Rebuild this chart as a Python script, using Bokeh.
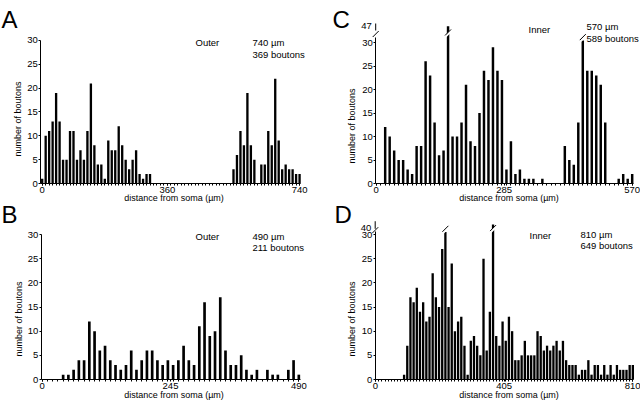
import math
from bokeh.plotting import figure
from bokeh.layouts import column, row
from bokeh.models import FixedTicker, Label, Range1d, ColumnDataSource
from bokeh.embed import file_html
from bokeh.resources import INLINE

FONT = "Liberation Sans"

# ---------------- data (bin centre in µm, boutons per 10 µm bin) ----------------
A_dist = list(range(0, 750, 10))
A_counts = [1, 10, 11, 13, 19, 13, 5, 5, 11, 11,
            5, 7, 5, 11, 21, 8, 4, 4, 1, 9,
            7, 7, 12, 8, 5, 3, 5, 7, 2, 1,
            2, 2, 0, 0, 0, 0, 0, 0, 0, 0,
            0, 0, 0, 0, 0, 0, 0, 0, 0, 0,
            0, 0, 0, 0, 0, 3, 6, 11, 8, 19,
            8, 5, 0, 4, 4, 11, 8, 22, 9, 3,
            4, 3, 3, 2, 2]
A_ticks = [0, 360, 740]

B_dist = list(range(0, 500, 10))
B_counts = [0, 0, 0, 0, 1, 1, 2, 4, 4, 12,
            10, 6, 7, 4, 3, 2, 3, 6, 2, 4,
            6, 6, 4, 3, 4, 3, 4, 7, 4, 3,
            11, 16, 9, 10, 17, 6, 3, 3, 5, 2,
            1, 2, 0, 2, 1, 1, 0, 2, 4, 1]
B_ticks = [0, 245, 490]

C_dist = list(range(0, 580, 10))
C_counts = [0, 0, 12, 10, 7, 5, 5, 3, 2, 8,
            8, 26, 23, 13, 6, 7, 47, 10, 10, 13,
            21, 9, 8, 15, 24, 22, 29, 24, 22, 3,
            9, 2, 3, 1, 1, 1, 0, 1, 0, 0,
            0, 0, 8, 5, 4, 13, 38, 24, 24, 23,
            21, 13, 0, 0, 1, 2, 1, 2]
C_ticks = [0, 285, 570]

D_dist = list(range(0, 820, 10))
D_counts = [0, 0, 0, 0, 0, 0, 0, 0, 0, 1,
            7, 17, 16, 19, 14, 16, 12, 13, 22, 17,
            15, 27, 39, 15, 24, 10, 12, 13, 7, 1,
            8, 9, 7, 5, 25, 6, 14, 43, 9, 7,
            12, 8, 13, 10, 4, 4, 5, 8, 5, 5,
            5, 10, 9, 6, 7, 6, 7, 8, 6, 8,
            4, 3, 3, 3, 1, 2, 2, 4, 1, 3,
            3, 1, 3, 1, 3, 1, 3, 2, 2, 2,
            3, 3]
D_ticks = [0, 405, 810]

Y_ticks = [0, 5, 10, 15, 20, 25, 30]

XTITLE = "distance from soma (µm)"
YTITLE = "number of boutons"

# ---------------- geometry (page pixels) ----------------
# ox, oy, w, h: figure box; x0: pixel of 0 µm; sx: px per µm; base: pixel of 0 boutons;
# sy: px per bouton; xax: pixel of the y axis line
G = {
    "A": dict(ox=0, oy=0, w=330, h=194, x0=41.7, sx=0.3478, base=183, sy=4.767, xax=40.3, xend=743),
    "C": dict(ox=330, oy=0, w=310, h=194, x0=375.7, sx=0.4491, base=183, sy=4.7, xax=375.2, xend=572),
    "B": dict(ox=0, oy=194, w=330, h=206, x0=41.7, sx=0.5237, base=379, sy=4.833, xax=40.8, xend=493),
    "D": dict(ox=330, oy=194, w=310, h=206, x0=375.0, sx=0.3177, base=379, sy=4.833, xax=374.7, xend=813),
}


def px_x(g, px):
    return (px - g["x0"]) / g["sx"]


def px_y(g, py):
    return (g["base"] - py) / g["sy"]


def display_height(v, brk):
    """Broken y axis: values above 30 are drawn on a compressed upper segment."""
    if brk is None or v <= 30:
        return v
    if v < brk["v0"]:
        return brk["gap"]
    return brk["d0"] + (v - brk["v0"]) * (brk["d1"] - brk["d0"]) / (brk["v1"] - brk["v0"])


def add_text(p, g, px, py, text, size="9.5px", align="left", angle=0.0):
    p.add_layout(Label(x=px_x(g, px), y=px_y(g, py), text=text, angle=angle,
                       text_font=FONT, text_font_size=size, text_color="black",
                       text_align=align, text_baseline="middle"))


def add_letter(p, g, px, py, text):
    p.add_layout(Label(x=px_x(g, px), y=px_y(g, py), text=text,
                       text_font=FONT, text_font_size="24px", text_color="black",
                       text_align="left", text_baseline="alphabetic"))


def make_panel(key, dist, counts, xticks, brk, bar_w):
    g = G[key]
    xr = (px_x(g, g["ox"]), px_x(g, g["ox"] + g["w"]))
    yr = (px_y(g, g["oy"] + g["h"]), px_y(g, g["oy"]))
    p = figure(width=g["w"], height=g["h"], x_range=Range1d(*xr), y_range=Range1d(*yr),
               output_backend="svg", toolbar_location=None,
               min_border=0, min_border_left=0, min_border_right=0,
               min_border_top=0, min_border_bottom=0)
    p.outline_line_color = None
    p.xgrid.visible = False
    p.ygrid.visible = False
    p.background_fill_color = "white"
    p.border_fill_color = "white"

    xax = px_x(g, g["xax"])
    tops = [display_height(v, brk) for v in counts]
    src = ColumnDataSource(dict(x=dist, top=tops, n=counts))
    p.vbar(x="x", top="top", width=bar_w, source=src,
           fill_color="black", line_color=None)

    # x axis, drawn along y = 0
    xa = p.xaxis[0]
    xa.fixed_location = 0
    xa.bounds = (xax, g["xend"])
    xa.ticker = FixedTicker(ticks=xticks, minor_ticks=dist)
    xa.major_tick_out = 2
    xa.major_tick_in = 0
    xa.minor_tick_out = 2
    xa.minor_tick_in = 0
    xa.axis_line_color = "black"
    xa.major_tick_line_color = "black"
    xa.minor_tick_line_color = "black"
    xa.major_label_standoff = 1
    xa.major_label_text_font = FONT
    xa.major_label_text_font_size = "9.5px"
    xa.major_label_text_color = "black"

    # y axis, drawn at the left edge of the data
    ya = p.yaxis[0]
    ya.fixed_location = xax
    ya.ticker = FixedTicker(ticks=Y_ticks, minor_ticks=[])
    ya.bounds = (0, 30) if brk is None else (0, brk["axis_top"])
    ya.major_tick_out = 2
    ya.major_tick_in = 0
    ya.minor_tick_out = 0
    ya.minor_tick_in = 0
    ya.axis_line_color = "black"
    ya.major_tick_line_color = "black"
    ya.major_label_standoff = 1
    ya.major_label_text_font = FONT
    ya.major_label_text_font_size = "9.5px"
    ya.major_label_text_color = "black"

    if brk is not None:
        dx_ax = 3.0 / g["sx"]
        dy = 3.0 / g["sy"]
        # upper segment of the broken axis and its label
        p.segment(x0=[xax], y0=[brk["seg"][0]], x1=[xax], y1=[brk["seg"][1]],
                  line_color="black", line_width=1)
        p.add_layout(Label(x=xax, y=display_height(brk["label_v"], brk), text=str(brk["label_v"]),
                           x_offset=-4, text_align="right", text_baseline="middle",
                           text_font=FONT, text_font_size="9.5px", text_color="black"))
        yc = (brk["axis_top"] + brk["seg"][0]) / 2
        p.segment(x0=[xax - dx_ax], y0=[yc - dy], x1=[xax + dx_ax], y1=[yc + dy],
                  line_color="black", line_width=1)
        # break marks on the truncated bars
        bx = [d for d, v in zip(dist, counts) if v > 30]
        by = [brk["slash_upper"] if v >= brk["v0"] else brk["gap"] + 0.35
              for v in counts if v > 30]
        dxb = 3.0 / g["sx"]
        off = 1.6 / g["sy"]
        p.segment(x0=[x - dxb for x in bx], y0=[y - dy for y in by],
                  x1=[x + dxb for x in bx], y1=[y + dy for y in by],
                  line_color="white", line_width=2.2)
        p.segment(x0=[x - dxb for x in bx], y0=[y - dy + off for y in by],
                  x1=[x + dxb for x in bx], y1=[y + dy + off for y in by],
                  line_color="black", line_width=1)
    return p, g


C_brk = dict(v0=44, v1=47, d0=32.6, d1=33.45, gap=30.45, axis_top=31.06,
             seg=(32.55, 34.04), label_v=47, slash_upper=31.8)
D_brk = dict(v0=40, v1=45, d0=31.45, d1=32.48, gap=30.5, axis_top=30.6,
             seg=(31.18, 32.75), label_v=40, slash_upper=31.0)

pA, gA = make_panel("A", A_dist, A_counts, A_ticks, None, 6.7)
pC, gC = make_panel("C", C_dist, C_counts, C_ticks, C_brk, 5.5)
pB, gB = make_panel("B", B_dist, B_counts, B_ticks, None, 5.1)
pD, gD = make_panel("D", D_dist, D_counts, D_ticks, D_brk, 7.3)

# panel letters
add_letter(pA, gA, 1, 19, "A")
add_letter(pC, gC, 332, 19, "C")
add_letter(pB, gB, 1, 213.5, "B")
add_letter(pD, gD, 334, 213.5, "D")

# y titles
add_text(pA, gA, 17, 118.5, YTITLE, size="9px", align="center", angle=math.pi / 2)
add_text(pC, gC, 351.5, 125.5, YTITLE, size="9px", align="center", angle=math.pi / 2)
add_text(pB, gB, 18.5, 318.5, YTITLE, size="9px", align="center", angle=math.pi / 2)
add_text(pD, gD, 351.5, 318.5, YTITLE, size="9px", align="center", angle=math.pi / 2)

# x titles (the upper row's titles fall in the lower row's boxes)
add_text(pB, gB, 173.5, 197.5, XTITLE, size="9px", align="center")
add_text(pD, gD, 508.5, 197.5, XTITLE, size="9px", align="center")
add_text(pB, gB, 173.5, 394, XTITLE, size="9px", align="center")
add_text(pD, gD, 508.5, 394, XTITLE, size="9px", align="center")

# annotations
add_text(pA, gA, 195, 42, "Outer")
add_text(pA, gA, 252, 41.5, "740 µm")
add_text(pA, gA, 252, 53.5, "369 boutons")

add_text(pB, gB, 195, 236, "Outer")
add_text(pB, gB, 252, 236, "490 µm")
add_text(pB, gB, 252, 247, "211 boutons")

add_text(pC, gC, 528, 28.5, "Inner")
add_text(pC, gC, 586, 26, "570 µm")
add_text(pC, gC, 586, 37.5, "589 boutons")

add_text(pD, gD, 529, 235, "Inner")
add_text(pD, gD, 580, 233.5, "810 µm")
add_text(pD, gD, 580, 245, "649 boutons")

layout = column(row(pA, pC), row(pB, pD))
open("out.html", "w").write(file_html(layout, INLINE))
